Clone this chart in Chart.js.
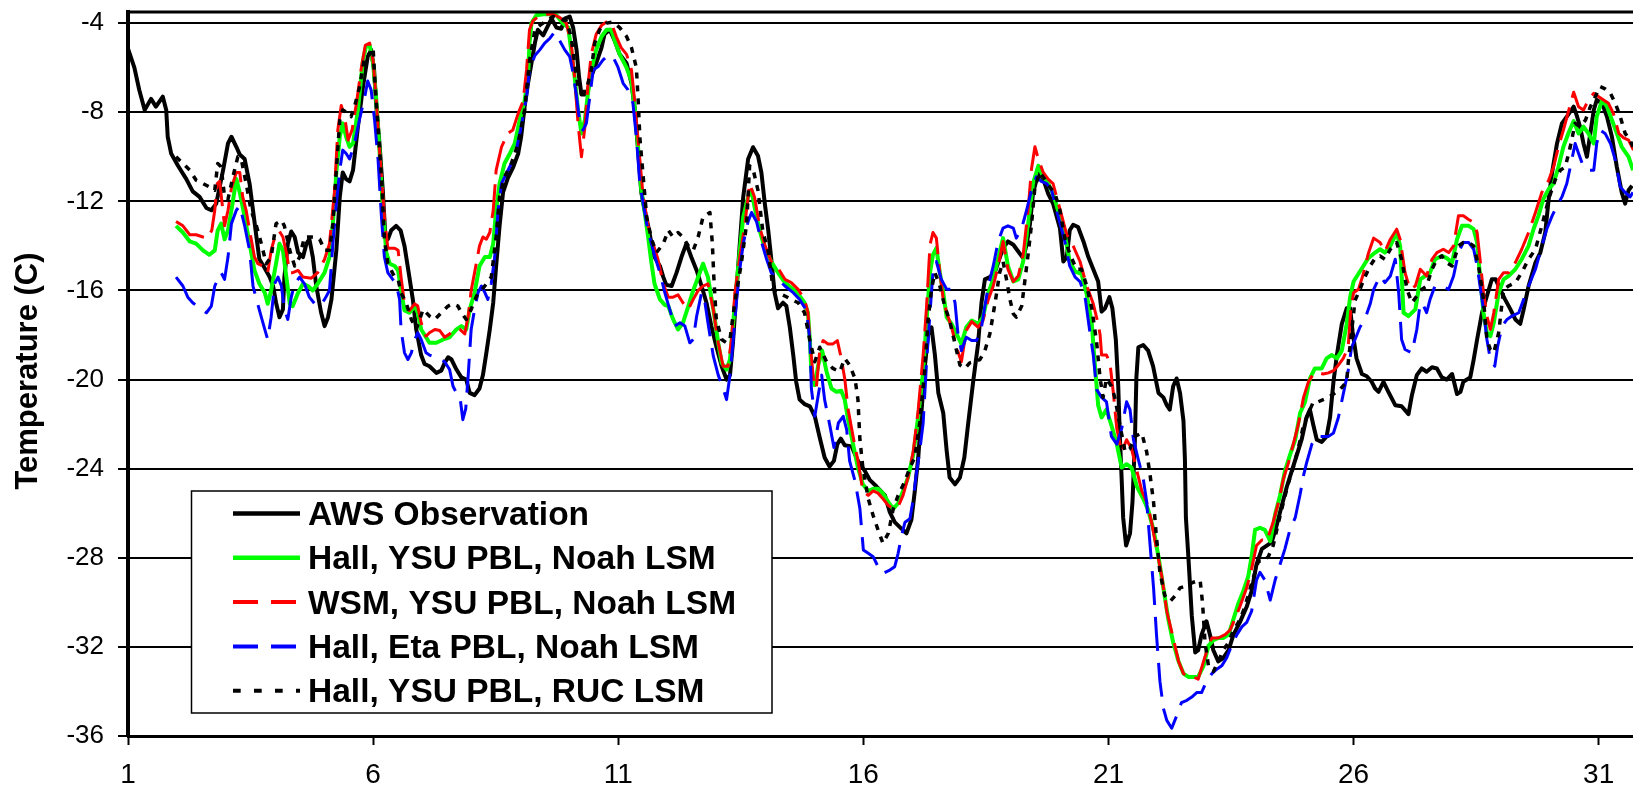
<!DOCTYPE html>
<html>
<head>
<meta charset="utf-8">
<script src="https://cdn.jsdelivr.net/npm/chart.js@4.4.1/dist/chart.umd.min.js"></script>
<style>
html, body { margin: 0; padding: 0; background: #fff; overflow: hidden; }
#wrap { width: 1633px; height: 786px; position: relative; }
</style>
</head>
<body>
<div id="wrap"><canvas id="chart"></canvas></div>
<script>
// Axis ticks
const dayTicks = [1, 6, 11, 16, 21, 26, 31];
const tempTicks = [-36, -32, -28, -24, -20, -16, -12, -8, -4];

// Series names (legend order)
const seriesNames = [
    'AWS Observation',
    'Hall, YSU PBL, Noah LSM',
    'WSM, YSU PBL, Noah LSM',
    'Hall, Eta PBL, Noah LSM',
    'Hall, YSU PBL, RUC LSM'
];

// [day, temperature (C)]
const awsObs = [
    [1.00,-5.15],[1.13,-6.0],[1.23,-7.0],[1.34,-7.9],[1.47,-7.4],[1.57,-7.75],[1.71,-7.3],[1.78,-7.9],[1.81,-9.1],[1.88,-9.85],
    [2.02,-10.4],[2.19,-11.0],[2.32,-11.55],[2.46,-11.8],[2.60,-12.3],[2.70,-12.4],[2.80,-12.1],[2.94,-10.6],[3.04,-9.4],[3.11,-9.1],
    [3.21,-9.55],[3.28,-9.9],[3.38,-10.1],[3.48,-11.2],[3.55,-12.4],[3.62,-13.6],[3.68,-14.6],[3.79,-15.0],[3.89,-15.4],[3.96,-15.8],
    [4.02,-16.55],[4.09,-17.2],[4.16,-16.85],[4.19,-15.4],[4.26,-13.9],[4.33,-13.35],[4.40,-13.6],[4.47,-14.3],[4.57,-14.5],[4.64,-13.9],
    [4.70,-13.7],[4.77,-14.5],[4.84,-15.8],[4.94,-17.0],[5.01,-17.6],[5.08,-17.2],[5.15,-16.4],[5.25,-14.2],[5.32,-11.8],[5.38,-10.7],
    [5.45,-11.0],[5.52,-11.1],[5.59,-10.6],[5.69,-8.65],[5.79,-6.9],[5.89,-5.5],[5.96,-5.2],[6.02,-6.1],[6.06,-7.6],[6.13,-9.4],
    [6.20,-11.6],[6.25,-13.6],[6.30,-13.7],[6.37,-13.3],[6.47,-13.1],[6.56,-13.3],[6.64,-14.0],[6.74,-15.4],[6.81,-16.4],[6.88,-17.75],
    [6.98,-18.9],[7.05,-19.3],[7.15,-19.4],[7.29,-19.7],[7.39,-19.6],[7.46,-19.25],[7.53,-19.0],[7.60,-19.1],[7.70,-19.55],[7.80,-19.9],
    [7.90,-20.0],[7.97,-20.6],[8.07,-20.7],[8.17,-20.4],[8.24,-19.8],[8.31,-18.8],[8.38,-17.75],[8.45,-16.55],[8.51,-14.9],[8.58,-13.1],
    [8.65,-11.6],[8.75,-10.95],[8.85,-10.5],[8.96,-9.85],[9.02,-9.1],[9.09,-7.75],[9.16,-6.7],[9.23,-5.8],[9.30,-4.9],[9.36,-4.3],
    [9.47,-4.55],[9.57,-4.1],[9.64,-3.8],[9.74,-4.2],[9.84,-4.25],[9.91,-3.8],[10.01,-3.7],[10.08,-4.2],[10.15,-5.2],[10.20,-6.4],
    [10.25,-7.2],[10.32,-7.2],[10.38,-7.0],[10.45,-6.4],[10.55,-5.8],[10.66,-5.1],[10.72,-4.5],[10.83,-4.3],[10.93,-4.8],[11.03,-5.4],
    [11.17,-5.8],[11.27,-6.7],[11.34,-7.9],[11.41,-9.85],[11.47,-11.6],[11.54,-12.4],[11.61,-13.1],[11.68,-13.9],[11.74,-14.5],[11.85,-14.9],
    [11.92,-15.4],[11.98,-15.75],[12.09,-15.8],[12.19,-15.2],[12.29,-14.5],[12.39,-13.9],[12.49,-14.5],[12.60,-15.1],[12.70,-15.8],[12.80,-16.55],
    [12.90,-17.6],[13.00,-18.5],[13.11,-19.4],[13.21,-20.0],[13.28,-19.8],[13.34,-18.35],[13.41,-16.1],[13.48,-13.9],[13.55,-11.8],[13.65,-10.1],
    [13.75,-9.57],[13.85,-9.95],[13.92,-10.7],[13.99,-12.1],[14.06,-13.3],[14.12,-14.55],[14.19,-16.1],[14.26,-16.8],[14.36,-16.55],[14.43,-16.7],
    [14.50,-17.65],[14.57,-18.9],[14.63,-20.1],[14.70,-20.9],[14.80,-21.1],[14.91,-21.2],[15.01,-21.65],[15.11,-22.6],[15.21,-23.5],[15.31,-23.9],
    [15.40,-23.65],[15.47,-22.9],[15.54,-22.65],[15.62,-22.95],[15.76,-23.0],[15.89,-23.65],[16.03,-24.1],[16.13,-24.5],[16.27,-24.8],[16.44,-25.2],
    [16.54,-25.95],[16.64,-26.4],[16.78,-26.7],[16.88,-26.9],[16.98,-26.3],[17.05,-25.0],[17.12,-23.5],[17.19,-21.35],[17.25,-19.5],[17.32,-18.0],
    [17.39,-17.65],[17.46,-18.9],[17.53,-20.6],[17.63,-21.5],[17.70,-23.2],[17.76,-24.4],[17.87,-24.7],[17.97,-24.4],[18.06,-23.5],[18.14,-21.95],
    [18.24,-20.1],[18.34,-18.4],[18.41,-16.55],[18.48,-15.5],[18.58,-15.4],[18.68,-15.2],[18.78,-14.55],[18.85,-14.1],[18.95,-13.8],[19.06,-13.95],
    [19.16,-14.25],[19.26,-14.55],[19.33,-13.95],[19.40,-13.0],[19.46,-11.65],[19.57,-10.7],[19.67,-11.0],[19.77,-11.65],[19.87,-12.1],[20.01,-13.2],
    [20.08,-14.7],[20.15,-14.5],[20.21,-13.3],[20.28,-13.05],[20.38,-13.15],[20.49,-13.8],[20.59,-14.5],[20.69,-15.05],[20.79,-15.6],[20.86,-16.95],
    [20.93,-16.8],[21.02,-16.3],[21.08,-16.8],[21.15,-18.2],[21.20,-20.3],[21.23,-22.4],[21.27,-24.5],[21.30,-26.2],[21.36,-27.45],[21.44,-26.9],
    [21.49,-25.5],[21.54,-22.7],[21.57,-19.9],[21.61,-18.55],[21.71,-18.45],[21.81,-18.7],[21.91,-19.4],[22.02,-20.6],[22.12,-20.8],[22.19,-21.15],
    [22.25,-21.35],[22.32,-20.3],[22.39,-19.95],[22.46,-20.6],[22.53,-21.85],[22.56,-23.6],[22.58,-26.2],[22.63,-27.95],[22.70,-30.6],[22.77,-32.25],
    [22.83,-32.15],[22.90,-31.45],[23.00,-30.85],[23.07,-31.45],[23.14,-32.15],[23.24,-32.65],[23.34,-32.5],[23.45,-32.15],[23.55,-31.45],[23.68,-30.9],
    [23.82,-30.2],[23.92,-29.5],[24.02,-28.3],[24.13,-27.6],[24.23,-27.45],[24.33,-27.3],[24.43,-26.55],[24.53,-25.7],[24.64,-24.8],[24.74,-24.1],
    [24.84,-23.4],[24.94,-22.7],[25.04,-21.7],[25.11,-21.35],[25.18,-22.05],[25.25,-22.7],[25.35,-22.8],[25.45,-22.55],[25.52,-21.7],[25.59,-20.1],
    [25.66,-18.9],[25.76,-17.5],[25.86,-16.8],[25.93,-16.8],[25.98,-17.85],[26.06,-19.05],[26.17,-19.75],[26.27,-19.85],[26.37,-20.1],[26.44,-20.4],
    [26.51,-20.55],[26.61,-20.1],[26.71,-20.55],[26.85,-21.15],[26.98,-21.2],[27.12,-21.55],[27.19,-20.7],[27.29,-19.8],[27.39,-19.5],[27.49,-19.65],
    [27.60,-19.45],[27.70,-19.5],[27.80,-19.9],[27.90,-20.0],[28.01,-19.75],[28.11,-20.65],[28.18,-20.55],[28.24,-20.1],[28.38,-19.9],[28.45,-19.1],
    [28.52,-18.2],[28.62,-17.0],[28.72,-16.25],[28.82,-15.5],[28.90,-15.5],[28.99,-15.95],[29.09,-16.4],[29.20,-16.85],[29.30,-17.3],[29.40,-17.5],
    [29.47,-16.85],[29.57,-15.8],[29.71,-14.75],[29.81,-14.3],[29.91,-13.4],[29.98,-11.9],[30.05,-10.7],[30.15,-9.4],[30.25,-8.5],[30.35,-8.2],
    [30.49,-7.75],[30.56,-8.2],[30.62,-8.65],[30.69,-9.4],[30.76,-10.0],[30.83,-8.95],[30.90,-7.9],[30.96,-7.45],[31.07,-7.6],[31.17,-8.2],
    [31.27,-9.1],[31.37,-10.45],[31.47,-11.6],[31.54,-12.1],[31.61,-11.5],[31.68,-11.3]
];

const hallYsuNoah = [
    [1.98,-13.1],[2.12,-13.4],[2.26,-13.8],[2.39,-13.9],[2.53,-14.2],[2.66,-14.4],[2.77,-14.2],[2.83,-13.3],[2.90,-13.0],[2.97,-13.7],
    [3.04,-13.3],[3.11,-12.4],[3.21,-11.0],[3.28,-11.6],[3.38,-12.7],[3.48,-13.9],[3.58,-15.1],[3.68,-15.7],[3.79,-16.1],[3.85,-16.6],
    [3.92,-16.0],[4.02,-14.8],[4.09,-13.9],[4.16,-14.2],[4.23,-15.4],[4.30,-16.6],[4.36,-16.7],[4.47,-16.1],[4.57,-15.7],[4.67,-15.8],
    [4.77,-16.0],[4.87,-15.7],[5.01,-15.2],[5.11,-14.5],[5.18,-13.0],[5.25,-10.7],[5.32,-9.1],[5.38,-8.5],[5.45,-9.1],[5.52,-9.55],
    [5.59,-9.4],[5.69,-7.9],[5.79,-5.7],[5.86,-5.0],[5.93,-5.0],[6.00,-5.8],[6.06,-7.3],[6.13,-9.7],[6.20,-12.4],[6.27,-14.3],
    [6.34,-14.8],[6.44,-14.9],[6.51,-15.1],[6.57,-16.0],[6.64,-16.9],[6.74,-17.0],[6.85,-16.7],[6.91,-17.0],[6.98,-17.75],[7.15,-18.35],
    [7.29,-18.35],[7.43,-18.2],[7.56,-18.1],[7.70,-17.75],[7.80,-17.6],[7.90,-17.75],[7.97,-16.85],[8.07,-16.1],[8.17,-14.9],[8.28,-14.5],
    [8.38,-14.5],[8.45,-13.9],[8.51,-12.4],[8.58,-11.2],[8.68,-10.3],[8.79,-9.85],[8.89,-9.4],[8.99,-8.35],[9.09,-7.5],[9.16,-6.4],
    [9.19,-4.9],[9.23,-4.0],[9.33,-3.65],[9.47,-3.6],[9.60,-3.6],[9.74,-3.65],[9.87,-4.0],[9.98,-4.2],[10.04,-5.2],[10.11,-6.4],
    [10.18,-7.9],[10.25,-8.95],[10.32,-8.35],[10.38,-7.2],[10.45,-6.1],[10.55,-5.2],[10.66,-4.6],[10.76,-4.3],[10.86,-4.3],[10.93,-4.8],
    [11.03,-5.4],[11.17,-6.0],[11.27,-6.6],[11.34,-7.9],[11.41,-9.7],[11.47,-11.5],[11.54,-12.5],[11.61,-13.6],[11.68,-14.8],[11.74,-15.7],
    [11.85,-16.4],[11.95,-16.65],[12.02,-16.7],[12.12,-17.3],[12.22,-17.75],[12.32,-17.45],[12.43,-16.7],[12.53,-16.0],[12.63,-15.4],[12.73,-14.8],
    [12.83,-15.4],[12.94,-16.85],[13.04,-18.35],[13.11,-19.25],[13.21,-19.55],[13.28,-19.1],[13.34,-17.6],[13.41,-15.8],[13.48,-14.2],[13.55,-12.7],
    [13.65,-11.8],[13.72,-11.5],[13.78,-12.25],[13.89,-13.35],[13.99,-14.1],[14.12,-14.7],[14.26,-15.2],[14.40,-15.65],[14.57,-15.95],[14.70,-16.25],
    [14.80,-16.55],[14.87,-17.0],[14.91,-18.25],[14.94,-19.65],[15.01,-20.25],[15.08,-19.35],[15.16,-18.7],[15.25,-19.65],[15.35,-20.4],[15.45,-20.55],
    [15.55,-20.5],[15.62,-20.9],[15.69,-21.8],[15.79,-22.9],[15.89,-23.95],[15.99,-24.7],[16.10,-25.0],[16.20,-24.9],[16.30,-24.9],[16.40,-25.1],
    [16.51,-25.5],[16.61,-25.8],[16.71,-25.55],[16.81,-25.0],[16.91,-24.4],[17.02,-23.35],[17.12,-21.65],[17.22,-19.65],[17.29,-17.35],[17.36,-15.2],
    [17.42,-14.4],[17.49,-14.1],[17.56,-15.2],[17.63,-16.1],[17.70,-17.2],[17.80,-17.5],[17.90,-17.95],[18.00,-18.4],[18.10,-17.65],[18.21,-17.35],
    [18.34,-17.5],[18.44,-17.2],[18.55,-16.1],[18.65,-15.5],[18.75,-14.55],[18.85,-13.65],[18.95,-14.9],[19.06,-15.6],[19.16,-15.5],[19.26,-14.7],
    [19.36,-13.05],[19.46,-11.2],[19.57,-10.4],[19.67,-10.9],[19.77,-11.2],[19.87,-11.65],[19.97,-12.4],[20.11,-13.5],[20.21,-14.7],[20.32,-15.15],
    [20.45,-15.25],[20.55,-16.1],[20.66,-17.5],[20.72,-19.25],[20.79,-21.15],[20.86,-21.7],[20.96,-21.35],[21.06,-22.05],[21.17,-22.9],[21.27,-23.95],
    [21.37,-23.8],[21.47,-23.95],[21.58,-24.8],[21.71,-25.35],[21.81,-25.85],[21.92,-26.75],[22.02,-27.95],[22.12,-29.35],[22.22,-30.75],[22.32,-31.8],
    [22.43,-32.65],[22.53,-33.2],[22.63,-33.35],[22.73,-33.35],[22.83,-33.35],[22.94,-32.85],[23.04,-31.95],[23.14,-31.7],[23.24,-31.6],[23.34,-31.6],
    [23.45,-31.45],[23.55,-30.75],[23.65,-30.05],[23.75,-29.5],[23.85,-28.85],[23.92,-27.95],[23.99,-26.75],[24.09,-26.65],[24.19,-26.75],[24.30,-27.25],
    [24.40,-26.05],[24.50,-25.2],[24.60,-24.1],[24.70,-23.4],[24.81,-22.7],[24.91,-21.5],[25.01,-21.0],[25.11,-19.95],[25.21,-19.5],[25.35,-19.5],
    [25.45,-19.05],[25.55,-18.9],[25.66,-19.05],[25.76,-18.7],[25.86,-17.5],[25.93,-16.3],[26.00,-15.6],[26.10,-15.25],[26.20,-14.9],[26.30,-14.55],
    [26.41,-14.35],[26.54,-14.15],[26.64,-14.3],[26.75,-14.0],[26.88,-13.4],[26.95,-14.0],[27.02,-17.0],[27.12,-17.15],[27.26,-16.85],[27.36,-15.5],
    [27.46,-15.35],[27.56,-15.2],[27.66,-14.6],[27.80,-14.45],[27.90,-14.55],[28.01,-14.75],[28.11,-13.7],[28.21,-13.1],[28.35,-13.1],[28.45,-13.25],
    [28.52,-13.85],[28.58,-15.35],[28.65,-17.0],[28.72,-17.9],[28.79,-18.05],[28.86,-17.45],[28.96,-16.1],[29.06,-15.5],[29.16,-15.35],[29.30,-15.05],
    [29.43,-14.6],[29.57,-14.0],[29.67,-13.25],[29.77,-12.65],[29.87,-11.9],[29.98,-11.45],[30.08,-11.2],[30.18,-10.45],[30.28,-9.55],[30.39,-8.9],
    [30.49,-8.4],[30.59,-8.95],[30.69,-8.65],[30.79,-8.95],[30.90,-9.4],[30.96,-8.2],[31.07,-7.45],[31.17,-7.75],[31.27,-8.35],[31.37,-8.95],
    [31.47,-9.55],[31.61,-10.0],[31.70,-10.6]
];

const wsmYsuNoah = [
    [1.98,-12.9],[2.12,-13.1],[2.26,-13.5],[2.39,-13.5],[2.53,-13.6],[2.62,-13.65],[2.71,-13.3],[2.77,-12.4],[2.82,-11.2],[2.87,-11.1],
    [2.91,-11.9],[2.97,-13.1],[3.04,-12.4],[3.11,-11.4],[3.21,-10.7],[3.28,-10.7],[3.34,-11.8],[3.41,-12.4],[3.48,-13.3],[3.58,-14.5],
    [3.65,-14.8],[3.75,-14.9],[3.85,-15.2],[3.92,-14.2],[4.02,-13.4],[4.09,-13.35],[4.16,-13.6],[4.23,-14.3],[4.30,-15.2],[4.36,-15.2],
    [4.47,-15.1],[4.57,-15.4],[4.74,-15.45],[4.87,-15.2],[5.01,-14.6],[5.11,-13.9],[5.21,-11.6],[5.28,-8.8],[5.35,-7.7],[5.42,-8.2],
    [5.49,-9.25],[5.57,-8.8],[5.66,-7.6],[5.76,-6.0],[5.84,-5.0],[5.93,-4.9],[6.00,-5.7],[6.06,-7.3],[6.13,-9.7],[6.23,-12.7],
    [6.30,-14.1],[6.44,-14.1],[6.51,-14.2],[6.57,-15.4],[6.64,-16.6],[6.74,-16.9],[6.85,-16.6],[6.91,-16.7],[6.98,-17.45],[7.08,-18.05],
    [7.15,-17.9],[7.26,-17.75],[7.36,-17.8],[7.46,-18.1],[7.56,-17.95],[7.66,-17.75],[7.77,-17.75],[7.87,-17.95],[7.94,-17.15],[8.00,-16.0],
    [8.07,-15.2],[8.17,-14.0],[8.24,-13.6],[8.31,-13.7],[8.38,-13.4],[8.45,-12.4],[8.51,-10.6],[8.62,-9.55],[8.75,-8.95],[8.85,-8.8],
    [8.96,-8.05],[9.06,-7.5],[9.13,-6.1],[9.19,-4.3],[9.26,-3.9],[9.40,-3.65],[9.53,-3.6],[9.67,-3.6],[9.81,-3.75],[9.94,-4.0],
    [10.04,-4.9],[10.11,-6.4],[10.18,-8.5],[10.25,-10.0],[10.32,-8.65],[10.38,-6.85],[10.45,-5.4],[10.55,-4.5],[10.66,-4.1],[10.76,-3.95],
    [10.86,-4.0],[10.96,-4.6],[11.06,-5.1],[11.17,-5.4],[11.27,-6.1],[11.34,-7.6],[11.41,-9.4],[11.51,-11.8],[11.61,-13.1],[11.71,-13.9],
    [11.81,-14.6],[11.92,-15.7],[12.02,-16.3],[12.12,-16.3],[12.22,-16.2],[12.32,-16.55],[12.43,-16.85],[12.53,-16.4],[12.63,-16.0],[12.73,-15.8],
    [12.83,-15.7],[12.94,-16.85],[13.04,-18.35],[13.14,-19.4],[13.24,-19.4],[13.31,-18.2],[13.38,-16.1],[13.48,-14.5],[13.58,-13.1],[13.68,-11.2],
    [13.78,-11.8],[13.89,-13.2],[13.99,-13.95],[14.12,-14.7],[14.26,-15.0],[14.40,-15.5],[14.53,-15.65],[14.67,-15.95],[14.80,-16.4],[14.87,-17.0],
    [14.91,-18.25],[14.98,-19.95],[15.04,-20.4],[15.11,-18.7],[15.18,-18.25],[15.28,-18.4],[15.38,-18.4],[15.47,-18.25],[15.55,-19.05],[15.62,-19.95],
    [15.69,-21.35],[15.79,-22.55],[15.89,-23.65],[15.99,-25.0],[16.10,-25.2],[16.20,-25.0],[16.30,-25.1],[16.40,-25.35],[16.51,-25.65],[16.61,-25.8],
    [16.71,-25.7],[16.81,-25.2],[16.91,-24.4],[17.02,-23.2],[17.12,-21.35],[17.22,-18.9],[17.29,-16.7],[17.36,-13.95],[17.42,-13.4],[17.49,-13.65],
    [17.56,-15.2],[17.63,-16.4],[17.70,-17.0],[17.80,-17.65],[17.90,-18.55],[18.00,-19.2],[18.10,-17.8],[18.21,-17.4],[18.34,-17.65],[18.44,-17.35],
    [18.55,-16.4],[18.65,-15.8],[18.75,-14.9],[18.85,-13.8],[18.95,-15.05],[19.06,-15.6],[19.16,-15.35],[19.26,-14.4],[19.36,-12.4],[19.43,-10.55],
    [19.50,-9.55],[19.57,-10.1],[19.67,-10.7],[19.77,-11.0],[19.87,-11.2],[19.98,-12.1],[20.15,-13.5],[20.28,-14.0],[20.42,-14.7],[20.55,-15.75],
    [20.69,-16.6],[20.79,-17.5],[20.83,-18.0],[20.86,-18.9],[20.96,-18.9],[21.03,-19.25],[21.10,-20.6],[21.17,-22.2],[21.27,-23.25],[21.37,-22.7],
    [21.47,-23.1],[21.58,-24.1],[21.68,-25.0],[21.78,-25.5],[21.88,-26.4],[21.98,-27.6],[22.09,-28.85],[22.19,-30.4],[22.32,-31.6],[22.43,-32.65],
    [22.53,-33.2],[22.63,-33.35],[22.73,-33.35],[22.83,-33.45],[22.94,-32.65],[23.04,-31.95],[23.11,-31.6],[23.24,-31.6],[23.38,-31.45],[23.48,-31.25],
    [23.58,-30.75],[23.68,-30.2],[23.82,-29.35],[23.92,-28.5],[24.02,-27.45],[24.13,-27.2],[24.23,-27.25],[24.36,-26.4],[24.47,-25.5],[24.57,-24.45],
    [24.67,-23.75],[24.77,-22.9],[24.87,-22.05],[24.98,-20.8],[25.08,-20.1],[25.18,-19.75],[25.28,-19.7],[25.38,-19.75],[25.49,-19.7],[25.59,-19.6],
    [25.69,-19.35],[25.79,-19.05],[25.89,-18.55],[25.94,-16.95],[26.00,-16.1],[26.10,-15.95],[26.20,-15.25],[26.30,-14.35],[26.41,-13.65],[26.54,-13.85],
    [26.64,-14.25],[26.75,-13.7],[26.88,-13.25],[26.95,-13.7],[27.05,-15.2],[27.15,-15.95],[27.26,-15.8],[27.36,-15.05],[27.49,-15.35],[27.60,-14.6],
    [27.70,-14.3],[27.83,-14.15],[27.94,-14.3],[28.04,-14.0],[28.14,-12.65],[28.24,-12.65],[28.34,-12.8],[28.45,-12.95],[28.52,-13.4],[28.58,-14.6],
    [28.65,-16.1],[28.72,-17.15],[28.79,-17.75],[28.86,-17.0],[28.96,-15.5],[29.06,-15.2],[29.16,-15.2],[29.30,-14.75],[29.43,-14.15],[29.57,-13.4],
    [29.71,-12.5],[29.84,-11.6],[29.98,-11.05],[30.08,-10.45],[30.18,-9.55],[30.28,-8.8],[30.39,-7.9],[30.49,-7.1],[30.59,-7.75],[30.69,-7.9],
    [30.79,-7.45],[30.90,-7.15],[31.00,-7.3],[31.10,-7.45],[31.20,-7.6],[31.30,-8.05],[31.41,-8.95],[31.51,-9.15],[31.61,-9.25],[31.71,-9.7]
];

const hallEtaNoah = [
    [1.98,-15.4],[2.12,-15.8],[2.22,-16.3],[2.32,-16.55],[2.46,-16.8],[2.60,-17.0],[2.70,-16.7],[2.77,-15.8],[2.83,-15.5],[2.90,-15.2],
    [2.97,-15.5],[3.04,-14.5],[3.11,-13.0],[3.21,-12.4],[3.28,-12.2],[3.38,-13.1],[3.48,-14.2],[3.55,-15.8],[3.62,-16.4],[3.72,-17.2],
    [3.79,-17.75],[3.85,-18.2],[3.92,-17.2],[3.99,-15.7],[4.06,-15.4],[4.13,-15.8],[4.19,-16.85],[4.26,-17.3],[4.33,-16.3],[4.40,-15.7],
    [4.50,-15.4],[4.60,-15.7],[4.70,-16.3],[4.81,-16.6],[4.91,-16.7],[5.01,-16.4],[5.11,-16.0],[5.18,-13.9],[5.25,-12.1],[5.32,-10.6],
    [5.38,-9.7],[5.45,-9.85],[5.52,-10.1],[5.62,-9.4],[5.72,-8.35],[5.83,-7.3],[5.89,-6.6],[5.96,-7.0],[6.03,-8.35],[6.10,-10.1],
    [6.17,-12.7],[6.23,-14.5],[6.30,-15.2],[6.40,-15.5],[6.47,-15.7],[6.54,-16.4],[6.57,-17.75],[6.64,-18.8],[6.71,-19.1],[6.78,-18.8],
    [6.85,-18.2],[6.91,-17.9],[6.98,-18.2],[7.08,-18.8],[7.15,-18.9],[7.26,-19.0],[7.36,-19.1],[7.46,-19.2],[7.56,-19.55],[7.63,-20.3],
    [7.70,-20.6],[7.77,-20.75],[7.83,-21.8],[7.89,-21.3],[7.94,-19.8],[8.00,-17.75],[8.07,-16.85],[8.14,-16.1],[8.21,-15.8],[8.28,-16.1],
    [8.34,-16.4],[8.41,-15.7],[8.48,-14.5],[8.55,-12.4],[8.62,-11.2],[8.72,-10.75],[8.82,-10.3],[8.92,-9.7],[9.02,-8.65],[9.13,-7.3],
    [9.19,-6.1],[9.30,-5.45],[9.40,-5.2],[9.50,-4.9],[9.60,-4.7],[9.70,-4.4],[9.81,-4.8],[9.91,-5.2],[10.01,-5.5],[10.08,-6.25],
    [10.15,-7.3],[10.21,-8.35],[10.28,-8.8],[10.35,-8.5],[10.42,-7.3],[10.49,-6.1],[10.59,-5.95],[10.69,-5.65],[10.79,-5.45],[10.89,-5.5],
    [10.99,-5.95],[11.10,-6.7],[11.20,-7.0],[11.30,-7.6],[11.37,-9.1],[11.44,-11.2],[11.51,-12.1],[11.58,-13.0],[11.64,-13.6],[11.75,-14.5],
    [11.85,-15.2],[11.95,-16.1],[12.05,-16.85],[12.15,-17.6],[12.26,-17.45],[12.36,-17.6],[12.46,-18.35],[12.53,-18.2],[12.60,-17.15],[12.70,-16.1],
    [12.77,-16.55],[12.83,-17.45],[12.94,-18.95],[13.04,-19.8],[13.14,-20.4],[13.21,-20.9],[13.28,-19.8],[13.34,-18.35],[13.41,-16.55],[13.48,-15.05],
    [13.55,-13.9],[13.65,-12.9],[13.72,-12.5],[13.82,-12.9],[13.92,-13.8],[14.02,-14.55],[14.12,-15.2],[14.26,-15.5],[14.40,-15.8],[14.57,-16.1],
    [14.70,-16.4],[14.84,-16.9],[14.91,-18.25],[14.94,-20.4],[15.01,-21.65],[15.08,-20.7],[15.15,-19.8],[15.21,-20.9],[15.32,-22.1],[15.40,-23.05],
    [15.49,-21.95],[15.59,-21.65],[15.66,-22.25],[15.72,-23.65],[15.83,-24.55],[15.93,-25.8],[16.00,-27.65],[16.10,-27.8],[16.20,-27.95],[16.30,-28.4],
    [16.40,-28.7],[16.54,-28.55],[16.64,-28.4],[16.71,-27.8],[16.78,-27.0],[16.85,-26.4],[16.95,-26.25],[17.02,-25.35],[17.08,-24.25],[17.15,-23.2],
    [17.22,-21.95],[17.29,-19.2],[17.36,-17.0],[17.42,-15.2],[17.49,-14.7],[17.59,-15.5],[17.70,-15.95],[17.80,-15.95],[17.87,-16.55],[17.93,-17.95],
    [18.00,-18.7],[18.10,-18.1],[18.21,-18.25],[18.31,-18.25],[18.41,-17.65],[18.48,-16.7],[18.55,-15.8],[18.65,-14.9],[18.75,-13.8],[18.85,-13.2],
    [18.95,-13.1],[19.06,-13.2],[19.12,-13.65],[19.23,-13.2],[19.33,-12.4],[19.43,-11.5],[19.53,-10.9],[19.63,-11.1],[19.74,-11.2],[19.84,-11.5],
    [19.94,-12.4],[20.11,-13.8],[20.21,-14.9],[20.32,-15.4],[20.42,-15.6],[20.52,-16.25],[20.62,-17.85],[20.69,-18.9],[20.76,-20.45],[20.86,-20.8],
    [20.96,-21.0],[21.06,-22.55],[21.17,-22.9],[21.27,-22.2],[21.37,-21.0],[21.44,-21.35],[21.51,-22.7],[21.61,-23.6],[21.71,-24.45],[21.78,-25.5],
    [21.85,-27.45],[21.92,-29.35],[21.98,-31.45],[22.05,-33.55],[22.12,-34.75],[22.19,-35.3],[22.29,-35.65],[22.39,-35.1],[22.49,-34.5],[22.60,-34.4],
    [22.70,-34.25],[22.80,-34.05],[22.90,-34.05],[23.00,-33.55],[23.11,-33.2],[23.21,-33.0],[23.31,-32.85],[23.41,-32.5],[23.51,-31.95],[23.62,-31.45],
    [23.72,-31.1],[23.82,-30.9],[23.92,-30.4],[24.02,-29.0],[24.09,-28.65],[24.19,-29.0],[24.30,-29.9],[24.40,-29.0],[24.50,-28.3],[24.60,-27.6],
    [24.70,-26.75],[24.81,-26.2],[24.91,-25.15],[24.98,-24.3],[25.04,-23.75],[25.15,-22.9],[25.25,-22.55],[25.38,-22.55],[25.49,-22.55],[25.59,-22.4],
    [25.69,-21.7],[25.79,-20.65],[25.89,-19.6],[25.96,-18.55],[26.03,-18.2],[26.13,-17.65],[26.23,-17.3],[26.34,-16.6],[26.41,-15.95],[26.54,-15.35],
    [26.64,-15.65],[26.75,-15.35],[26.85,-14.6],[26.92,-16.1],[26.98,-18.2],[27.05,-18.65],[27.19,-18.8],[27.29,-17.75],[27.36,-16.55],[27.43,-16.7],
    [27.49,-17.0],[27.56,-16.4],[27.66,-15.8],[27.80,-15.8],[27.94,-15.95],[28.04,-15.35],[28.14,-14.3],[28.24,-13.85],[28.35,-13.85],[28.45,-14.15],
    [28.52,-14.9],[28.58,-15.8],[28.65,-16.85],[28.72,-18.2],[28.79,-19.1],[28.88,-19.4],[28.94,-18.5],[29.03,-17.6],[29.13,-17.3],[29.23,-17.15],
    [29.37,-17.0],[29.47,-16.4],[29.57,-15.8],[29.71,-15.05],[29.84,-14.0],[29.94,-13.25],[30.05,-12.65],[30.15,-12.2],[30.25,-11.8],[30.35,-11.2],
    [30.45,-10.15],[30.52,-9.4],[30.59,-9.85],[30.69,-10.45],[30.79,-10.6],[30.90,-10.6],[30.96,-9.4],[31.03,-8.8],[31.13,-8.95],[31.24,-9.4],
    [31.34,-10.15],[31.44,-11.35],[31.54,-11.6],[31.64,-11.8],[31.70,-11.6]
];

const hallYsuRuc = [
    [1.98,-10.0],[2.12,-10.3],[2.26,-10.6],[2.39,-11.05],[2.53,-11.2],[2.66,-11.35],[2.77,-11.5],[2.83,-10.3],[2.90,-10.45],[2.97,-11.8],
    [3.04,-11.9],[3.14,-10.9],[3.24,-10.0],[3.31,-10.1],[3.41,-11.2],[3.51,-12.4],[3.62,-13.1],[3.72,-13.9],[3.82,-14.8],[3.92,-14.5],
    [4.02,-13.0],[4.13,-12.85],[4.19,-13.1],[4.30,-14.2],[4.40,-14.9],[4.50,-14.5],[4.60,-13.6],[4.70,-13.6],[4.81,-13.6],[4.91,-13.7],
    [5.01,-14.2],[5.11,-14.2],[5.18,-13.0],[5.25,-10.6],[5.32,-8.35],[5.38,-7.9],[5.49,-8.05],[5.55,-8.2],[5.62,-7.75],[5.72,-6.9],
    [5.83,-5.5],[5.93,-5.4],[6.00,-5.1],[6.03,-6.4],[6.10,-8.65],[6.17,-10.9],[6.23,-13.7],[6.30,-14.8],[6.44,-15.4],[6.51,-15.5],
    [6.57,-16.1],[6.68,-16.6],[6.78,-17.3],[6.88,-17.75],[7.02,-16.85],[7.15,-17.15],[7.26,-17.3],[7.39,-17.0],[7.53,-16.7],[7.63,-16.6],
    [7.73,-16.7],[7.80,-17.0],[7.90,-17.3],[8.00,-16.85],[8.11,-16.25],[8.21,-16.0],[8.31,-15.7],[8.41,-15.4],[8.51,-13.6],[8.58,-11.8],
    [8.68,-10.9],[8.82,-10.3],[8.96,-9.4],[9.09,-7.9],[9.19,-5.7],[9.30,-4.3],[9.40,-4.1],[9.53,-3.9],[9.67,-3.7],[9.81,-3.8],
    [9.94,-3.9],[10.04,-4.6],[10.11,-5.8],[10.18,-6.85],[10.25,-7.15],[10.35,-7.0],[10.45,-6.1],[10.52,-4.9],[10.62,-4.3],[10.76,-4.0],
    [10.89,-3.95],[11.03,-4.2],[11.17,-4.6],[11.27,-5.1],[11.37,-6.0],[11.41,-7.6],[11.44,-9.1],[11.51,-10.9],[11.58,-12.7],[11.68,-13.7],
    [11.78,-14.3],[11.92,-13.9],[12.02,-13.3],[12.12,-13.6],[12.22,-13.4],[12.32,-13.6],[12.43,-14.0],[12.53,-14.2],[12.63,-13.6],[12.73,-12.7],
    [12.87,-12.5],[12.92,-13.9],[12.95,-15.4],[13.00,-17.3],[13.11,-18.2],[13.21,-18.35],[13.28,-18.2],[13.34,-17.15],[13.41,-16.1],[13.51,-14.8],
    [13.62,-13.0],[13.68,-10.4],[13.75,-10.55],[13.85,-11.5],[13.95,-13.35],[14.06,-14.25],[14.16,-15.95],[14.26,-16.1],[14.40,-16.25],[14.53,-16.4],
    [14.67,-16.55],[14.80,-17.0],[14.91,-18.25],[15.01,-19.2],[15.11,-18.55],[15.25,-19.2],[15.38,-19.5],[15.52,-19.65],[15.62,-19.05],[15.72,-19.35],
    [15.83,-19.95],[15.89,-20.9],[15.93,-22.7],[15.99,-23.95],[16.10,-25.35],[16.20,-26.1],[16.30,-26.75],[16.40,-27.35],[16.51,-26.9],[16.61,-25.8],
    [16.71,-25.2],[16.85,-24.55],[16.95,-23.95],[17.05,-23.5],[17.15,-21.95],[17.25,-19.65],[17.32,-17.35],[17.39,-15.95],[17.46,-15.2],[17.56,-15.8],
    [17.66,-16.7],[17.76,-17.35],[17.87,-18.4],[17.97,-19.35],[18.07,-19.5],[18.17,-19.25],[18.27,-19.2],[18.38,-19.1],[18.48,-18.7],[18.58,-17.95],
    [18.65,-17.05],[18.72,-16.1],[18.78,-15.2],[18.85,-14.7],[18.92,-15.5],[18.99,-16.4],[19.06,-17.05],[19.12,-17.2],[19.23,-16.7],[19.29,-15.65],
    [19.36,-14.4],[19.43,-13.05],[19.50,-11.35],[19.60,-10.7],[19.70,-11.0],[19.80,-11.35],[19.91,-11.65],[20.01,-12.4],[20.11,-13.65],[20.21,-14.35],
    [20.35,-15.05],[20.45,-15.05],[20.55,-15.75],[20.66,-16.8],[20.76,-18.35],[20.83,-19.95],[20.89,-20.8],[20.96,-19.95],[21.06,-20.3],[21.13,-20.8],
    [21.23,-22.0],[21.34,-23.25],[21.44,-23.1],[21.54,-22.55],[21.68,-22.4],[21.78,-23.25],[21.85,-24.3],[21.92,-25.5],[21.98,-27.1],[22.05,-28.65],
    [22.15,-29.7],[22.26,-29.95],[22.36,-29.7],[22.46,-29.35],[22.60,-29.25],[22.73,-29.1],[22.87,-29.0],[22.92,-30.05],[22.97,-31.8],[23.04,-32.85],
    [23.14,-33.1],[23.24,-32.65],[23.34,-32.15],[23.45,-31.8],[23.55,-31.25],[23.65,-30.9],[23.75,-30.4],[23.85,-29.7],[23.96,-28.85],[24.06,-28.15],
    [24.16,-28.15],[24.26,-27.95],[24.36,-27.45],[24.47,-26.4],[24.57,-25.5],[24.67,-24.65],[24.77,-23.95],[24.87,-23.1],[24.98,-22.05],[25.08,-21.5],
    [25.18,-21.0],[25.28,-21.0],[25.38,-20.9],[25.49,-20.8],[25.59,-20.65],[25.72,-20.45],[25.86,-20.1],[25.89,-19.25],[25.96,-17.85],[26.03,-16.45],
    [26.13,-15.95],[26.23,-15.4],[26.34,-14.9],[26.44,-14.55],[26.54,-14.45],[26.64,-14.6],[26.75,-14.15],[26.88,-13.85],[26.98,-14.6],[27.09,-15.95],
    [27.19,-16.55],[27.29,-16.25],[27.39,-15.95],[27.49,-15.8],[27.60,-15.05],[27.70,-14.6],[27.80,-14.45],[27.90,-14.75],[28.01,-14.9],[28.14,-14.0],
    [28.24,-13.85],[28.35,-13.85],[28.45,-14.0],[28.55,-14.9],[28.65,-16.4],[28.72,-18.2],[28.79,-18.65],[28.86,-18.8],[28.96,-17.9],[29.06,-15.95],
    [29.16,-15.8],[29.30,-15.65],[29.43,-15.2],[29.57,-14.6],[29.71,-14.15],[29.84,-13.1],[29.98,-11.9],[30.11,-11.05],[30.22,-10.6],[30.32,-10.45],
    [30.42,-9.55],[30.52,-8.5],[30.62,-8.65],[30.73,-8.35],[30.83,-7.75],[30.93,-7.3],[31.03,-6.85],[31.13,-6.95],[31.24,-7.15],[31.34,-7.6],
    [31.44,-8.2],[31.54,-8.95],[31.64,-9.25],[31.70,-9.55]
];

const FONT = '"Liberation Sans", Arial, sans-serif';

const toPoints = (arr) => arr.map(p => ({ x: p[0], y: p[1] }));

// order: higher number is drawn first (underneath)
const datasets = [
    { label: seriesNames[0], data: toPoints(awsObs), borderColor: '#000000', borderWidth: 4, order: 5,
      legendWidth: 4.5, legendDash: [] },
    { label: seriesNames[1], data: toPoints(hallYsuNoah), borderColor: '#00ff00', borderWidth: 4, order: 4,
      legendWidth: 4.5, legendDash: [] },
    { label: seriesNames[2], data: toPoints(wsmYsuNoah), borderColor: '#ff0000', borderWidth: 3, borderDash: [34, 10], order: 3,
      legendWidth: 4, legendDash: [25, 13] },
    { label: seriesNames[3], data: toPoints(hallEtaNoah), borderColor: '#0000ff', borderWidth: 3, borderDash: [34, 12], order: 2,
      legendWidth: 4, legendDash: [25, 13] },
    { label: seriesNames[4], data: toPoints(hallYsuRuc), borderColor: '#000000', borderWidth: 3.5, borderDash: [6, 7], order: 1,
      legendWidth: 4, legendDash: [7.7, 13.3] }
];

// Top frame line, rotated axis title and the boxed legend
const decorPlugin = {
    id: 'decor',
    afterDraw(chart) {
        const ctx = chart.ctx;
        const area = chart.chartArea;
        ctx.save();

        // top border of the plot area
        ctx.strokeStyle = '#000';
        ctx.lineWidth = 3;
        ctx.beginPath();
        ctx.moveTo(area.left, area.top);
        ctx.lineTo(area.right, area.top);
        ctx.stroke();

        // axis title
        ctx.save();
        ctx.translate(37, 371);
        ctx.rotate(-Math.PI / 2);
        ctx.font = 'bold 31px ' + FONT;
        ctx.fillStyle = '#000';
        ctx.textAlign = 'center';
        ctx.textBaseline = 'alphabetic';
        ctx.fillText('Temperature (C)', 0, 0);
        ctx.restore();

        // legend box
        const box = { x: 191.5, y: 491, w: 580.5, h: 222 };
        ctx.fillStyle = '#fff';
        ctx.fillRect(box.x, box.y, box.w, box.h);
        ctx.strokeStyle = '#000';
        ctx.lineWidth = 1.5;
        ctx.strokeRect(box.x, box.y, box.w, box.h);

        ctx.font = 'bold 33.5px ' + FONT;
        ctx.textAlign = 'left';
        ctx.textBaseline = 'alphabetic';
        chart.data.datasets.forEach((ds, i) => {
            const y = 513.5 + i * 44.3;
            ctx.strokeStyle = ds.borderColor;
            ctx.lineWidth = ds.legendWidth;
            ctx.setLineDash(ds.legendDash);
            ctx.beginPath();
            ctx.moveTo(233, y);
            ctx.lineTo(300, y);
            ctx.stroke();
            ctx.setLineDash([]);
            ctx.fillStyle = '#000';
            ctx.fillText(ds.label, 308, y + 11.5);
        });

        ctx.restore();
    }
};

const tempChart = new Chart(document.getElementById('chart').getContext('2d'), {
    type: 'line',
    data: { datasets: datasets },
    options: {
        responsive: true,
        maintainAspectRatio: false,
        animation: false,
        elements: {
            point: { radius: 0 },
            line: { tension: 0, fill: false, borderJoinStyle: 'round' }
        },
        layout: { padding: { top: 12, right: 0, bottom: 0, left: 0 } },
        plugins: {
            legend: { display: false },
            tooltip: { enabled: false },
            title: { display: false }
        },
        scales: {
            x: {
                type: 'linear',
                min: 1,
                max: 31.7,
                afterBuildTicks: (scale) => { scale.ticks = dayTicks.map(v => ({ value: v })); },
                afterFit: (scale) => { scale.height = 50; scale.paddingLeft = 0; scale.paddingRight = 0; },
                grid: { drawOnChartArea: false, drawTicks: true, tickLength: 9, tickWidth: 2, tickColor: '#000' },
                border: { display: true, color: '#000', width: 3 },
                ticks: { font: { family: FONT, size: 28 }, color: '#000', padding: 13, maxRotation: 0, autoSkip: false }
            },
            y: {
                type: 'linear',
                min: -36,
                max: -3.5,
                afterBuildTicks: (scale) => { scale.ticks = tempTicks.map(v => ({ value: v })); },
                afterFit: (scale) => { scale.width = 128; scale.paddingTop = 0; scale.paddingBottom = 0; },
                grid: { color: '#000', lineWidth: 2, drawTicks: true, tickLength: 10, tickWidth: 2, tickColor: '#000' },
                border: { display: true, color: '#000', width: 4 },
                ticks: { font: { family: FONT, size: 26 }, color: '#000', padding: 14 }
            }
        }
    },
    plugins: [decorPlugin]
});
</script>
</body>
</html>
